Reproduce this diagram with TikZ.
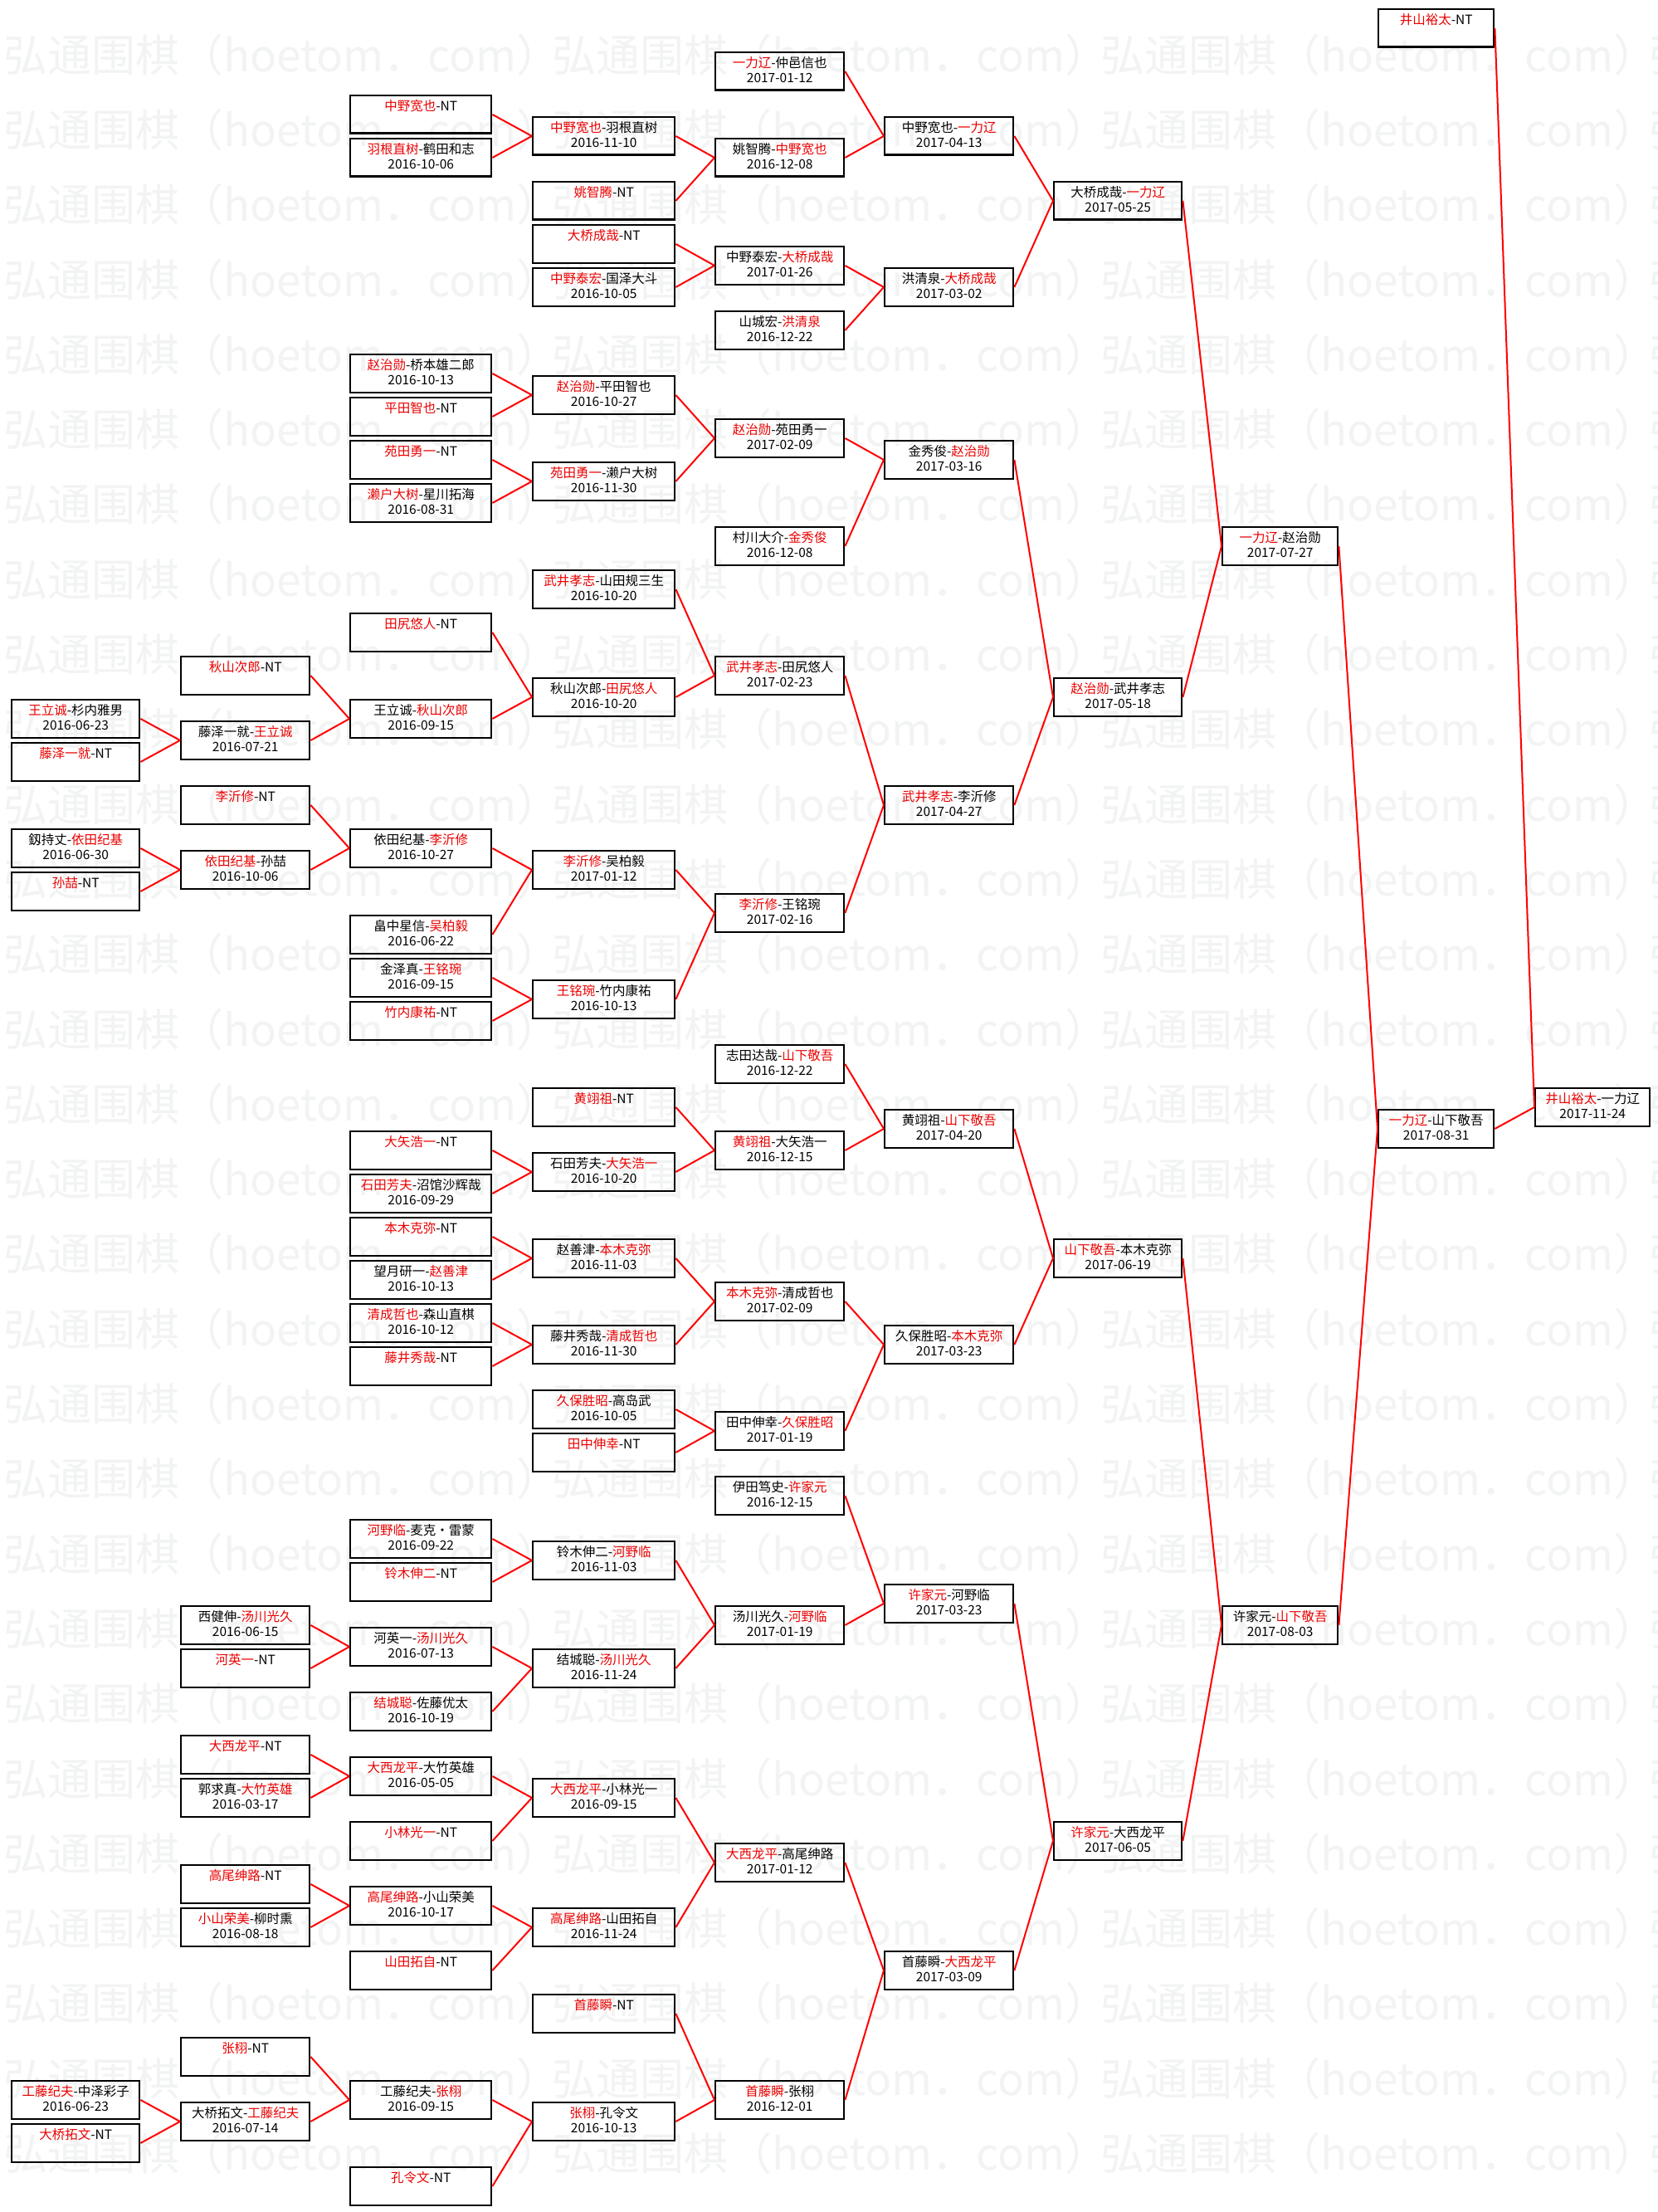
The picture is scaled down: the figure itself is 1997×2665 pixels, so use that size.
\documentclass[tikz,border=0pt]{standalone}
\usepackage{fontspec}
\setmainfont{Noto Sans CJK SC}
\definecolor{wmcol}{RGB}{242,243,243}
\definecolor{txtred}{RGB}{235,0,0}
\newcommand\R[1]{\textcolor{txtred}{#1}}
% column left edges and widths (pixels of the 1997x2665 reference)
\def\cxA{13}\def\cwA{154pt}
\def\cxB{217}\def\cwB{155pt}
\def\cxC{421}\def\cwC{170pt}
\def\cxD{641}\def\cwD{171pt}
\def\cxE{861}\def\cwE{155pt}
\def\cxF{1065}\def\cwF{155pt}
\def\cxG{1269}\def\cwG{154pt}
\def\cxH{1472}\def\cwH{139pt}
\def\cxI{1660}\def\cwI{139pt}
\def\cxJ{1849}\def\cwJ{138pt}
\newcommand\mybox[5]{%
  \pgfmathsetmacro\bxtop{10+52*#3}%
  \edef\bxleft{\csname cx#2\endcsname}%
  \edef\bxwidth{\csname cw#2\endcsname}%
  \node[bx, minimum width=\bxwidth, anchor=north west] (#1) at (\bxleft,\bxtop) {};
  \node[txt] (#1-a) at ([yshift=-14pt]#1.north) {#4};
  \node[txt] (#1-b) at ([yshift=-31.5pt]#1.north) {#5};
}
\begin{document}
\begin{tikzpicture}[x=1pt,y=-1pt,
  bx/.style={draw=black, line width=2.4pt, rectangle, inner sep=0pt, minimum height=45.5pt},
  txt/.style={inner sep=0pt, font=\fontsize{15.5}{18}\selectfont},
  conn/.style={draw=red, line width=2pt},
  wm/.style={inner sep=0pt, text=wmcol, font=\fontsize{53}{60}\selectfont}]
\useasboundingbox (0,0) rectangle (1997,2665);
\fill[white] (0,0) rectangle (1997,2665);
\begin{scope}
\clip (0,0) rectangle (1997,2665);
\foreach \k in {0,...,28} {
  \foreach \xx in {4,665,1326,1987} {
    \node[wm, anchor=west] (wm-\k-\xx) at (\xx, {66+90.3*\k}) {弘通围棋（hoetom．com）};
  }
}
\end{scope}

% ---- column A
\mybox{A16}{A}{16}{\R{王立诚}-杉内雅男}{2016-06-23}
\mybox{A17}{A}{17}{\R{藤泽一就}-NT}{}
\mybox{A19}{A}{19}{釼持丈-\R{依田纪基}}{2016-06-30}
\mybox{A20}{A}{20}{\R{孙喆}-NT}{}
\mybox{A48}{A}{48}{\R{工藤纪夫}-中泽彩子}{2016-06-23}
\mybox{A49}{A}{49}{\R{大桥拓文}-NT}{}
% ---- column B
\mybox{B15}{B}{15}{\R{秋山次郎}-NT}{}
\mybox{B16h}{B}{16.5}{藤泽一就-\R{王立诚}}{2016-07-21}
\mybox{B18}{B}{18}{\R{李沂修}-NT}{}
\mybox{B19h}{B}{19.5}{\R{依田纪基}-孙喆}{2016-10-06}
\mybox{B37}{B}{37}{西健伸-\R{汤川光久}}{2016-06-15}
\mybox{B38}{B}{38}{\R{河英一}-NT}{}
\mybox{B40}{B}{40}{\R{大西龙平}-NT}{}
\mybox{B41}{B}{41}{郭求真-\R{大竹英雄}}{2016-03-17}
\mybox{B43}{B}{43}{\R{高尾绅路}-NT}{}
\mybox{B44}{B}{44}{\R{小山荣美}-柳时熏}{2016-08-18}
\mybox{B47}{B}{47}{\R{张栩}-NT}{}
\mybox{B48h}{B}{48.5}{大桥拓文-\R{工藤纪夫}}{2016-07-14}
% ---- column C
\mybox{C2}{C}{2}{\R{中野宽也}-NT}{}
\mybox{C3}{C}{3}{\R{羽根直树}-鹤田和志}{2016-10-06}
\mybox{C8}{C}{8}{\R{赵治勋}-桥本雄二郎}{2016-10-13}
\mybox{C9}{C}{9}{\R{平田智也}-NT}{}
\mybox{C10}{C}{10}{\R{苑田勇一}-NT}{}
\mybox{C11}{C}{11}{\R{濑户大树}-星川拓海}{2016-08-31}
\mybox{C14}{C}{14}{\R{田尻悠人}-NT}{}
\mybox{C16}{C}{16}{王立诚-\R{秋山次郎}}{2016-09-15}
\mybox{C19}{C}{19}{依田纪基-\R{李沂修}}{2016-10-27}
\mybox{C21}{C}{21}{畠中星信-\R{吴柏毅}}{2016-06-22}
\mybox{C22}{C}{22}{金泽真-\R{王铭琬}}{2016-09-15}
\mybox{C23}{C}{23}{\R{竹内康祐}-NT}{}
\mybox{C26}{C}{26}{\R{大矢浩一}-NT}{}
\mybox{C27}{C}{27}{\R{石田芳夫}-沼馆沙辉哉}{2016-09-29}
\mybox{C28}{C}{28}{\R{本木克弥}-NT}{}
\mybox{C29}{C}{29}{望月研一-\R{赵善津}}{2016-10-13}
\mybox{C30}{C}{30}{\R{清成哲也}-森山直棋}{2016-10-12}
\mybox{C31}{C}{31}{\R{藤井秀哉}-NT}{}
\mybox{C35}{C}{35}{\R{河野临}-麦克・雷蒙}{2016-09-22}
\mybox{C36}{C}{36}{\R{铃木伸二}-NT}{}
\mybox{C37h}{C}{37.5}{河英一-\R{汤川光久}}{2016-07-13}
\mybox{C39}{C}{39}{\R{结城聪}-佐藤优太}{2016-10-19}
\mybox{C40h}{C}{40.5}{\R{大西龙平}-大竹英雄}{2016-05-05}
\mybox{C42}{C}{42}{\R{小林光一}-NT}{}
\mybox{C43h}{C}{43.5}{\R{高尾绅路}-小山荣美}{2016-10-17}
\mybox{C45}{C}{45}{\R{山田拓自}-NT}{}
\mybox{C48}{C}{48}{工藤纪夫-\R{张栩}}{2016-09-15}
\mybox{C50}{C}{50}{\R{孔令文}-NT}{}
% ---- column D
\mybox{D2h}{D}{2.5}{\R{中野宽也}-羽根直树}{2016-11-10}
\mybox{D4}{D}{4}{\R{姚智腾}-NT}{}
\mybox{D5}{D}{5}{\R{大桥成哉}-NT}{}
\mybox{D6}{D}{6}{\R{中野泰宏}-国泽大斗}{2016-10-05}
\mybox{D8h}{D}{8.5}{\R{赵治勋}-平田智也}{2016-10-27}
\mybox{D10h}{D}{10.5}{\R{苑田勇一}-濑户大树}{2016-11-30}
\mybox{D13}{D}{13}{\R{武井孝志}-山田规三生}{2016-10-20}
\mybox{D15h}{D}{15.5}{秋山次郎-\R{田尻悠人}}{2016-10-20}
\mybox{D19h}{D}{19.5}{\R{李沂修}-吴柏毅}{2017-01-12}
\mybox{D22h}{D}{22.5}{\R{王铭琬}-竹内康祐}{2016-10-13}
\mybox{D25}{D}{25}{\R{黄翊祖}-NT}{}
\mybox{D26h}{D}{26.5}{石田芳夫-\R{大矢浩一}}{2016-10-20}
\mybox{D28h}{D}{28.5}{赵善津-\R{本木克弥}}{2016-11-03}
\mybox{D30h}{D}{30.5}{藤井秀哉-\R{清成哲也}}{2016-11-30}
\mybox{D32}{D}{32}{\R{久保胜昭}-高岛武}{2016-10-05}
\mybox{D33}{D}{33}{\R{田中伸幸}-NT}{}
\mybox{D35h}{D}{35.5}{铃木伸二-\R{河野临}}{2016-11-03}
\mybox{D38}{D}{38}{结城聪-\R{汤川光久}}{2016-11-24}
\mybox{D41}{D}{41}{\R{大西龙平}-小林光一}{2016-09-15}
\mybox{D44}{D}{44}{\R{高尾绅路}-山田拓自}{2016-11-24}
\mybox{D46}{D}{46}{\R{首藤瞬}-NT}{}
\mybox{D48h}{D}{48.5}{\R{张栩}-孔令文}{2016-10-13}
% ---- column E
\mybox{E1}{E}{1}{\R{一力辽}-仲邑信也}{2017-01-12}
\mybox{E3}{E}{3}{姚智腾-\R{中野宽也}}{2016-12-08}
\mybox{E5h}{E}{5.5}{中野泰宏-\R{大桥成哉}}{2017-01-26}
\mybox{E7}{E}{7}{山城宏-\R{洪清泉}}{2016-12-22}
\mybox{E9h}{E}{9.5}{\R{赵治勋}-苑田勇一}{2017-02-09}
\mybox{E12}{E}{12}{村川大介-\R{金秀俊}}{2016-12-08}
\mybox{E15}{E}{15}{\R{武井孝志}-田尻悠人}{2017-02-23}
\mybox{E20h}{E}{20.5}{\R{李沂修}-王铭琬}{2017-02-16}
\mybox{E24}{E}{24}{志田达哉-\R{山下敬吾}}{2016-12-22}
\mybox{E26}{E}{26}{\R{黄翊祖}-大矢浩一}{2016-12-15}
\mybox{E29h}{E}{29.5}{\R{本木克弥}-清成哲也}{2017-02-09}
\mybox{E32h}{E}{32.5}{田中伸幸-\R{久保胜昭}}{2017-01-19}
\mybox{E34}{E}{34}{伊田笃史-\R{许家元}}{2016-12-15}
\mybox{E37}{E}{37}{汤川光久-\R{河野临}}{2017-01-19}
\mybox{E42h}{E}{42.5}{\R{大西龙平}-高尾绅路}{2017-01-12}
\mybox{E48}{E}{48}{\R{首藤瞬}-张栩}{2016-12-01}
% ---- column F
\mybox{F2h}{F}{2.5}{中野宽也-\R{一力辽}}{2017-04-13}
\mybox{F6}{F}{6}{洪清泉-\R{大桥成哉}}{2017-03-02}
\mybox{F10}{F}{10}{金秀俊-\R{赵治勋}}{2017-03-16}
\mybox{F18}{F}{18}{\R{武井孝志}-李沂修}{2017-04-27}
\mybox{F25h}{F}{25.5}{黄翊祖-\R{山下敬吾}}{2017-04-20}
\mybox{F30h}{F}{30.5}{久保胜昭-\R{本木克弥}}{2017-03-23}
\mybox{F36h}{F}{36.5}{\R{许家元}-河野临}{2017-03-23}
\mybox{F45}{F}{45}{首藤瞬-\R{大西龙平}}{2017-03-09}
% ---- column G
\mybox{G4}{G}{4}{大桥成哉-\R{一力辽}}{2017-05-25}
\mybox{G15h}{G}{15.5}{\R{赵治勋}-武井孝志}{2017-05-18}
\mybox{G28h}{G}{28.5}{\R{山下敬吾}-本木克弥}{2017-06-19}
\mybox{G42}{G}{42}{\R{许家元}-大西龙平}{2017-06-05}
% ---- columns H, I, J
\mybox{H12}{H}{12}{\R{一力辽}-赵治勋}{2017-07-27}
\mybox{H37}{H}{37}{许家元-\R{山下敬吾}}{2017-08-03}
\mybox{I0}{I}{0}{\R{井山裕太}-NT}{}
\mybox{I25h}{I}{25.5}{\R{一力辽}-山下敬吾}{2017-08-31}
\mybox{J25}{J}{25}{\R{井山裕太}-一力辽}{2017-11-24}

% ---- connectors
\foreach \a/\b in {
  C2/D2h, C3/D2h, D2h/E3, D4/E3, E1/F2h, E3/F2h,
  D5/E5h, D6/E5h, E5h/F6, E7/F6, F2h/G4, F6/G4,
  C8/D8h, C9/D8h, C10/D10h, C11/D10h, D8h/E9h, D10h/E9h,
  E9h/F10, E12/F10,
  A16/B16h, A17/B16h, B15/C16, B16h/C16, C14/D15h, C16/D15h,
  D13/E15, D15h/E15,
  A19/B19h, A20/B19h, B18/C19, B19h/C19, C19/D19h, C21/D19h,
  C22/D22h, C23/D22h, D19h/E20h, D22h/E20h,
  E15/F18, E20h/F18, F10/G15h, F18/G15h, G4/H12, G15h/H12,
  C26/D26h, C27/D26h, D25/E26, D26h/E26, E24/F25h, E26/F25h,
  C28/D28h, C29/D28h, C30/D30h, C31/D30h, D28h/E29h, D30h/E29h,
  D32/E32h, D33/E32h, E29h/F30h, E32h/F30h, F25h/G28h, F30h/G28h,
  C35/D35h, C36/D35h, B37/C37h, B38/C37h, C37h/D38, C39/D38,
  D35h/E37, D38/E37, E34/F36h, E37/F36h,
  B40/C40h, B41/C40h, C40h/D41, C42/D41,
  B43/C43h, B44/C43h, C43h/D44, C45/D44, D41/E42h, D44/E42h,
  A48/B48h, A49/B48h, B47/C48, B48h/C48, C48/D48h, C50/D48h,
  D46/E48, D48h/E48, E42h/F45, E48/F45, F36h/G42, F45/G42,
  G28h/H37, G42/H37, H12/I25h, H37/I25h, I0/J25, I25h/J25} {
  \draw[conn] (\a.east) -- (\b.west);
}
\end{tikzpicture}
\end{document}
